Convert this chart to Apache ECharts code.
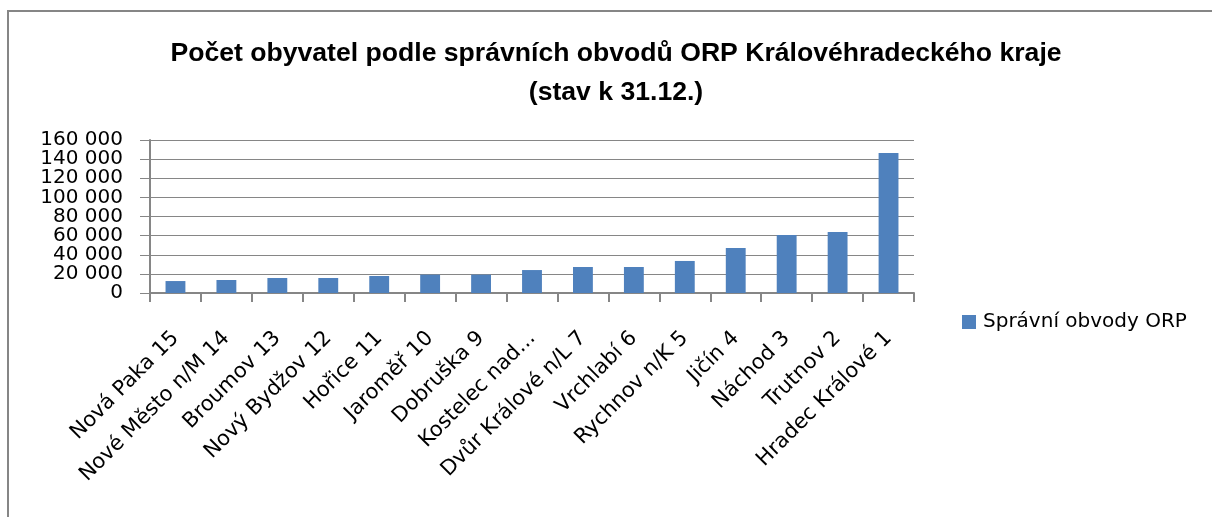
<!DOCTYPE html>
<html>
<head>
<meta charset="utf-8">
<script src="https://cdn.jsdelivr.net/npm/echarts@6/dist/echarts.min.js"></script>
<style>
  html, body { margin: 0; padding: 0; background: #fff; }
  #chart { width: 1212px; height: 517px; }
</style>
</head>
<body>
<div id="chart"></div>
<script>
// data
const categories = [
  "Nová Paka 15", "Nové Město n/M 14", "Broumov 13", "Nový Bydžov 12",
  "Hořice 11", "Jaroměř 10", "Dobruška 9", "Kostelec nad...",
  "Dvůr Králové n/L 7", "Vrchlabí 6", "Rychnov n/K 5", "Jičín 4",
  "Náchod 3", "Trutnov 2", "Hradec Králové 1"
];
const population = [
  12500, 13600, 15700, 15700, 17800, 19200, 19200, 24000,
  27200, 27200, 33500, 47100, 60700, 63900, 146500
];
const yTicks = [0, 20000, 40000, 60000, 80000, 100000, 120000, 140000, 160000];
const seriesName = "Správní obvody ORP";
const titleLines = [
  "Počet obyvatel podle správních obvodů ORP Královéhradeckého kraje",
  "(stav k 31.12.)"
];

const gray = "#868686";
const chart = echarts.init(document.getElementById("chart"));

// "160000" -> "160 000"
const fmtThousands = (v) => String(v).replace(/\B(?=(\d{3})+(?!\d))/g, " ");

const yMin = yTicks[0];
const yMax = yTicks[yTicks.length - 1];
const yStep = yTicks[1] - yTicks[0];
// labels sit closer than their font height, so they are split over two
// axes (even / odd ticks) to stop echarts hiding the crowded ones
const evenTicks = yTicks.filter((_, i) => i % 2 === 0);
const oddTicks = yTicks.filter((_, i) => i % 2 === 1);

const yLabelStyle = {
  margin: 27,
  fontFamily: "DejaVu Sans",
  fontSize: 20,
  color: "#000",
  formatter: fmtThousands,
};

const option = {
  backgroundColor: "#fff",
  animation: false,
  title: {
    text: titleLines.join("\n"),
    left: 616,
    top: 34,
    padding: 0,
    textAlign: "center",
    textStyle: {
      fontFamily: "Liberation Sans",
      fontWeight: "bold",
      fontSize: 26.6,
      lineHeight: 39,
      color: "#000",
    },
  },
  // outer frame of the chart area
  graphic: [
    {
      type: "rect",
      shape: { x: 8, y: 11, width: 1400, height: 700 },
      style: { fill: "none", stroke: gray, lineWidth: 2 },
      silent: true,
    },
  ],
  legend: {
    data: [seriesName],
    left: 957,
    top: 307,
    icon: "rect",
    itemWidth: 14,
    itemHeight: 14,
    itemGap: 10,
    textStyle: {
      fontFamily: "DejaVu Sans",
      fontSize: 20,
      color: "#000",
      padding: [0, 0, 0, 2],
    },
  },
  grid: {
    left: 150,
    right: 298,
    top: 140,
    bottom: 224,
    containLabel: false,
  },
  xAxis: {
    type: "category",
    data: categories,
    axisLine: { show: true, lineStyle: { color: gray, width: 2 } },
    axisTick: { show: true, length: 9, lineStyle: { color: gray, width: 2 } },
    axisLabel: {
      interval: 0,
      rotate: 45,
      margin: 42,
      fontFamily: "DejaVu Sans",
      fontSize: 21,
      color: "#000",
    },
  },
  yAxis: [
    {
      type: "value",
      position: "left",
      min: yMin,
      max: yMax,
      interval: yStep,
      axisLine: { show: true, lineStyle: { color: gray, width: 2 } },
      axisTick: { show: true, length: 10, lineStyle: { color: gray, width: 1 } },
      splitLine: { show: true, lineStyle: { color: gray, width: 1 } },
      axisLabel: Object.assign({ customValues: evenTicks }, yLabelStyle),
    },
    {
      type: "value",
      position: "left",
      offset: 0,
      min: yMin,
      max: yMax,
      interval: yStep,
      axisLine: { show: false },
      axisTick: { show: false },
      splitLine: { show: false },
      axisLabel: Object.assign({ customValues: oddTicks }, yLabelStyle),
    },
  ],
  series: [
    {
      name: seriesName,
      type: "bar",
      data: population,
      barCategoryGap: "61%",
      itemStyle: { color: "#4F81BD" },
    },
  ],
};

chart.setOption(option);
</script>
</body>
</html>
